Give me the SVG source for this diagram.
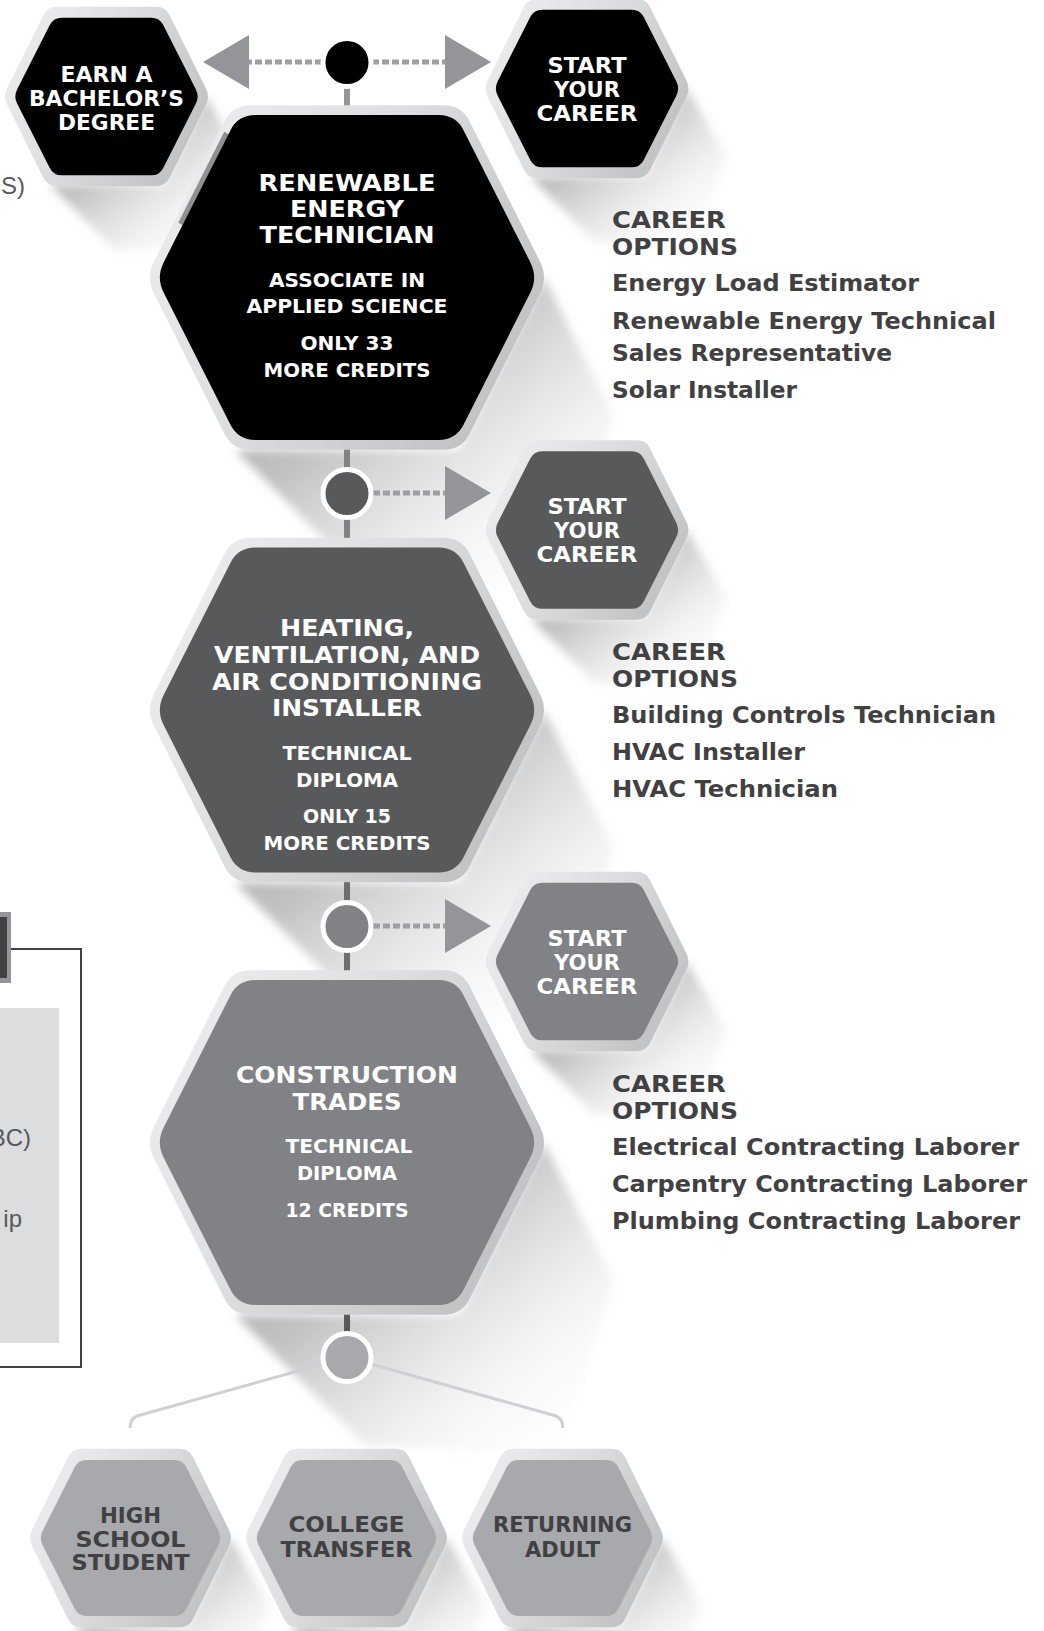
<svg xmlns="http://www.w3.org/2000/svg" width="1044" height="1631" viewBox="0 0 1044 1631">
<defs>
  <path id="hx" d="M96,-8.06 Q100,0 96,8.06 L61,78.54 Q57,86.6 48,86.6 L-48,86.6 Q-57,86.6 -61,78.54 L-96,8.06 Q-100,0 -96,-8.06 L-61,-78.54 Q-57,-86.6 -48,-86.6 L48,-86.6 Q57,-86.6 61,-78.54 Z"/>
  <linearGradient id="ring" x1="0" y1="0" x2="1" y2="0.5">
    <stop offset="0" stop-color="#f0f0f1"/>
    <stop offset="0.5" stop-color="#dedfe0"/>
    <stop offset="1" stop-color="#c3c4c6"/>
  </linearGradient>
  <linearGradient id="shd" x1="0" y1="0" x2="1" y2="1">
    <stop offset="0" stop-color="#6f6f71" stop-opacity="0.7"/>
    <stop offset="0.38" stop-color="#858587" stop-opacity="0.5"/>
    <stop offset="0.72" stop-color="#b4b4b6" stop-opacity="0.14"/>
    <stop offset="1" stop-color="#ffffff" stop-opacity="0"/>
  </linearGradient>
  <filter id="soft" x="-20%" y="-20%" width="140%" height="140%">
    <feGaussianBlur stdDeviation="5"/>
  </filter>
</defs>
<style>
  .ring{fill:url(#ring)}
  .shd{fill:url(#shd)}
  .t{font-family:"DejaVu Sans","Liberation Sans",sans-serif;font-weight:bold;text-anchor:middle}
  .w{fill:#ffffff}
  .dk{fill:#414042}
  .f23{font-size:23px}
  .f21{font-size:21px}
  .f20{font-size:20px}
  .co{font-family:"DejaVu Sans","Liberation Sans",sans-serif;font-weight:bold;font-size:23px;fill:#414042}
  .lt{font-family:"Liberation Sans",Arial,sans-serif;font-size:24px;fill:#58595b;text-anchor:end}
  .vbar{stroke-width:6;fill:none}
  .dots{stroke:#9d9fa2;stroke-width:5;stroke-dasharray:7 3;fill:none}
  .tri{fill:#939598}
  .branch{stroke:#cfd0d2;stroke-width:3;fill:none}
  .jn{stroke:#ffffff;stroke-width:5}
</style>

<!-- shadows -->
<g id="shadows" filter="url(#soft)">
  <polygon class="shd" points="544,277.5 614,417.5 559,590 365,580 235,450 459,450"/>
  <polygon class="shd" points="544,710 614,850 559,1022.5 365,1012.5 235,882.5 459,882.5"/>
  <polygon class="shd" points="544,1142.5 614,1282.5 559,1455 365,1445 235,1315 459,1315"/>
  <polygon class="shd" points="206.5,96.5 246.5,166.5 213.5,249.5 114.5,249.5 49.5,184.5 163.5,184.5"/>
  <polygon class="shd" points="687,88.5 727,158.5 694,241.5 595,241.5 530,176.5 644,176.5"/>
  <polygon class="shd" points="687,530 727,600 694,683 595,683 530,618 644,618"/>
  <polygon class="shd" points="687,961.5 727,1031.5 694,1114.5 595,1114.5 530,1049.5 644,1049.5"/>
  <polygon class="shd" points="230.5,1538 270.5,1608 237.5,1691 138.5,1691 73.5,1626 187.5,1626"/>
  <polygon class="shd" points="446.5,1538 486.5,1608 453.5,1691 354.5,1691 289.5,1626 403.5,1626"/>
  <polygon class="shd" points="662.5,1538 702.5,1608 669.5,1691 570.5,1691 505.5,1626 619.5,1626"/>
</g>

<!-- cropped side panel remnants -->
<g id="side-panel">
  <text class="lt" x="25" y="194">S)</text>
  <rect x="0" y="912" width="11" height="71" fill="#939598"/>
  <rect x="0" y="917" width="7" height="61" fill="#414042"/>
  <path d="M11,949 H81 V1367 H0" fill="none" stroke="#414042" stroke-width="2"/>
  <rect x="0" y="1008" width="59" height="335" fill="#dcddde"/>
  <text class="lt" x="31" y="1146">BC)</text>
  <text class="lt" x="22" y="1227">ip</text>
</g>

<!-- connectors -->
<g id="connectors">
  <line class="vbar" stroke="#939598" x1="347" y1="84" x2="347" y2="108"/>
  <line class="vbar" stroke="#808285" x1="347" y1="448" x2="347" y2="470"/>
  <line class="vbar" stroke="#808285" x1="347" y1="516" x2="347" y2="540"/>
  <line class="vbar" stroke="#6d6e71" x1="347" y1="881" x2="347" y2="903"/>
  <line class="vbar" stroke="#6d6e71" x1="347" y1="949" x2="347" y2="972"/>
  <line class="vbar" stroke="#58595b" x1="347" y1="1313" x2="347" y2="1334"/>
  <line class="dots" x1="322" y1="62" x2="249" y2="62"/>
  <line class="dots" x1="372" y1="62" x2="445" y2="62"/>
  <line class="dots" x1="373" y1="493" x2="445" y2="493"/>
  <line class="dots" x1="373" y1="926" x2="445" y2="926"/>
  <polygon class="tri" points="249,35 249,89 203,62"/>
  <polygon class="tri" points="445,35 445,89 491,62"/>
  <polygon class="tri" points="445,466 445,520 491,493"/>
  <polygon class="tri" points="445,899 445,953 491,926"/>
  <path class="branch" d="M323,1364 L137,1416 Q130,1419 130,1428"/>
  <path class="branch" d="M371,1364 L556,1416 Q563,1419 563,1428"/>
</g>

<!-- top row -->
<g id="node-earn-bachelors">
  <use href="#hx" class="ring" transform="translate(106.5,96.5) scale(1.035,1.035)"/>
  <use href="#hx" fill="#000000" transform="translate(106.5,96.5) scale(0.93,0.91)"/>
  <text class="t w f21" x="106.5" y="82" textLength="92" lengthAdjust="spacingAndGlyphs">EARN A</text>
  <text class="t w f21" x="106.5" y="106" textLength="155" lengthAdjust="spacingAndGlyphs">BACHELOR’S</text>
  <text class="t w f21" x="106.5" y="130" textLength="97" lengthAdjust="spacingAndGlyphs">DEGREE</text>
</g>
<g id="node-start-career-1">
  <use href="#hx" class="ring" transform="translate(587,88.5) scale(1.035,1.035)"/>
  <use href="#hx" fill="#000000" transform="translate(587,88.5) scale(0.93,0.91)"/>
  <text class="t w f21" x="587" y="73" textLength="79" lengthAdjust="spacingAndGlyphs">START</text>
  <text class="t w f21" x="587" y="97" textLength="66" lengthAdjust="spacingAndGlyphs">YOUR</text>
  <text class="t w f21" x="587" y="121" textLength="101" lengthAdjust="spacingAndGlyphs">CAREER</text>
</g>

<!-- main hex 1 -->
<g id="node-renewable-energy-technician">
  <use href="#hx" class="ring" transform="translate(347,277.5) scale(2.01,1.99)"/>
  <line x1="226.5" y1="133" x2="180.5" y2="224" stroke="#8f9093" stroke-width="5"/>
  <use href="#hx" fill="#000000" transform="translate(347,277.5) scale(1.91,1.876)"/>
  <text class="t w f23" x="347" y="191" textLength="177" lengthAdjust="spacingAndGlyphs">RENEWABLE</text>
  <text class="t w f23" x="347" y="217" textLength="114" lengthAdjust="spacingAndGlyphs">ENERGY</text>
  <text class="t w f23" x="347" y="243" textLength="175" lengthAdjust="spacingAndGlyphs">TECHNICIAN</text>
  <text class="t w f20" x="347" y="287" textLength="156" lengthAdjust="spacingAndGlyphs">ASSOCIATE IN</text>
  <text class="t w f20" x="347" y="313" textLength="201" lengthAdjust="spacingAndGlyphs">APPLIED SCIENCE</text>
  <text class="t w f20" x="347" y="350" textLength="93" lengthAdjust="spacingAndGlyphs">ONLY 33</text>
  <text class="t w f20" x="347" y="377" textLength="167" lengthAdjust="spacingAndGlyphs">MORE CREDITS</text>
</g>

<g id="node-start-career-2">
  <use href="#hx" class="ring" transform="translate(587,530) scale(1.035,1.035)"/>
  <use href="#hx" fill="#58595b" transform="translate(587,530) scale(0.93,0.91)"/>
  <text class="t w f21" x="587" y="514" textLength="79" lengthAdjust="spacingAndGlyphs">START</text>
  <text class="t w f21" x="587" y="538" textLength="66" lengthAdjust="spacingAndGlyphs">YOUR</text>
  <text class="t w f21" x="587" y="562" textLength="101" lengthAdjust="spacingAndGlyphs">CAREER</text>
</g>

<g id="node-hvac-installer">
  <use href="#hx" class="ring" transform="translate(347,710) scale(2.01,1.99)"/>
  <use href="#hx" fill="#58595b" transform="translate(347,710) scale(1.91,1.876)"/>
  <text class="t w f23" x="347" y="636" textLength="134" lengthAdjust="spacingAndGlyphs">HEATING,</text>
  <text class="t w f23" x="347" y="663" textLength="266" lengthAdjust="spacingAndGlyphs">VENTILATION, AND</text>
  <text class="t w f23" x="347" y="690" textLength="270" lengthAdjust="spacingAndGlyphs">AIR CONDITIONING</text>
  <text class="t w f23" x="347" y="716" textLength="150" lengthAdjust="spacingAndGlyphs">INSTALLER</text>
  <text class="t w f20" x="347" y="760" textLength="129" lengthAdjust="spacingAndGlyphs">TECHNICAL</text>
  <text class="t w f20" x="347" y="787" textLength="102" lengthAdjust="spacingAndGlyphs">DIPLOMA</text>
  <text class="t w f20" x="347" y="823" textLength="88" lengthAdjust="spacingAndGlyphs">ONLY 15</text>
  <text class="t w f20" x="347" y="850" textLength="167" lengthAdjust="spacingAndGlyphs">MORE CREDITS</text>
</g>

<g id="node-start-career-3">
  <use href="#hx" class="ring" transform="translate(587,961.5) scale(1.035,1.035)"/>
  <use href="#hx" fill="#808285" transform="translate(587,961.5) scale(0.93,0.91)"/>
  <text class="t w f21" x="587" y="946" textLength="79" lengthAdjust="spacingAndGlyphs">START</text>
  <text class="t w f21" x="587" y="970" textLength="66" lengthAdjust="spacingAndGlyphs">YOUR</text>
  <text class="t w f21" x="587" y="994" textLength="101" lengthAdjust="spacingAndGlyphs">CAREER</text>
</g>

<g id="node-construction-trades">
  <use href="#hx" class="ring" transform="translate(347,1142.5) scale(2.01,1.99)"/>
  <use href="#hx" fill="#808285" transform="translate(347,1142.5) scale(1.91,1.876)"/>
  <text class="t w f23" x="347" y="1083" textLength="222" lengthAdjust="spacingAndGlyphs">CONSTRUCTION</text>
  <text class="t w f23" x="347" y="1110" textLength="109" lengthAdjust="spacingAndGlyphs">TRADES</text>
  <text class="t w f20" x="349" y="1153" textLength="127" lengthAdjust="spacingAndGlyphs">TECHNICAL</text>
  <text class="t w f20" x="347" y="1180" textLength="100" lengthAdjust="spacingAndGlyphs">DIPLOMA</text>
  <text class="t w f20" x="347" y="1217" textLength="123" lengthAdjust="spacingAndGlyphs">12 CREDITS</text>
</g>

<!-- entry points -->
<g id="node-high-school-student">
  <use href="#hx" class="ring" transform="translate(130.5,1538) scale(1.025,1.03)"/>
  <use href="#hx" fill="#a7a9ac" transform="translate(130.5,1538) scale(0.915,0.9)"/>
  <text class="t dk f21" x="130.5" y="1523" textLength="61" lengthAdjust="spacingAndGlyphs">HIGH</text>
  <text class="t dk f21" x="130.5" y="1547" textLength="110" lengthAdjust="spacingAndGlyphs">SCHOOL</text>
  <text class="t dk f21" x="130.5" y="1570" textLength="118" lengthAdjust="spacingAndGlyphs">STUDENT</text>
</g>
<g id="node-college-transfer">
  <use href="#hx" class="ring" transform="translate(346.5,1538) scale(1.025,1.03)"/>
  <use href="#hx" fill="#a7a9ac" transform="translate(346.5,1538) scale(0.915,0.9)"/>
  <text class="t dk f21" x="346.5" y="1532" textLength="116" lengthAdjust="spacingAndGlyphs">COLLEGE</text>
  <text class="t dk f21" x="346.5" y="1557" textLength="132" lengthAdjust="spacingAndGlyphs">TRANSFER</text>
</g>
<g id="node-returning-adult">
  <use href="#hx" class="ring" transform="translate(562.5,1538) scale(1.025,1.03)"/>
  <use href="#hx" fill="#a7a9ac" transform="translate(562.5,1538) scale(0.915,0.9)"/>
  <text class="t dk f21" x="562.5" y="1532" textLength="139" lengthAdjust="spacingAndGlyphs">RETURNING</text>
  <text class="t dk f21" x="562.5" y="1557" textLength="75" lengthAdjust="spacingAndGlyphs">ADULT</text>
</g>

<!-- junction circles -->
<g id="junction-1"><circle class="jn" cx="347" cy="62.5" r="24" fill="#000000"/></g>
<g id="junction-2"><circle class="jn" cx="347" cy="493.5" r="24" fill="#58595b"/></g>
<g id="junction-3"><circle class="jn" cx="347" cy="926.5" r="24" fill="#808285"/></g>
<g id="junction-4"><circle class="jn" cx="347" cy="1357.5" r="24" fill="#a7a9ac"/></g>

<!-- career options -->
<g id="career-options-1">
  <text class="co" x="612" y="228" textLength="114" lengthAdjust="spacingAndGlyphs">CAREER</text>
  <text class="co" x="612" y="255" textLength="126" lengthAdjust="spacingAndGlyphs">OPTIONS</text>
  <text class="co" x="612" y="291" textLength="307" lengthAdjust="spacingAndGlyphs">Energy Load Estimator</text>
  <text class="co" x="612" y="329" textLength="384" lengthAdjust="spacingAndGlyphs">Renewable Energy Technical</text>
  <text class="co" x="612" y="361" textLength="280" lengthAdjust="spacingAndGlyphs">Sales Representative</text>
  <text class="co" x="612" y="398" textLength="185" lengthAdjust="spacingAndGlyphs">Solar Installer</text>
</g>
<g id="career-options-2">
  <text class="co" x="612" y="660" textLength="114" lengthAdjust="spacingAndGlyphs">CAREER</text>
  <text class="co" x="612" y="687" textLength="126" lengthAdjust="spacingAndGlyphs">OPTIONS</text>
  <text class="co" x="612" y="723" textLength="384" lengthAdjust="spacingAndGlyphs">Building Controls Technician</text>
  <text class="co" x="612" y="760" textLength="193" lengthAdjust="spacingAndGlyphs">HVAC Installer</text>
  <text class="co" x="612" y="797" textLength="226" lengthAdjust="spacingAndGlyphs">HVAC Technician</text>
</g>
<g id="career-options-3">
  <text class="co" x="612" y="1092" textLength="114" lengthAdjust="spacingAndGlyphs">CAREER</text>
  <text class="co" x="612" y="1119" textLength="126" lengthAdjust="spacingAndGlyphs">OPTIONS</text>
  <text class="co" x="612" y="1155" textLength="407" lengthAdjust="spacingAndGlyphs">Electrical Contracting Laborer</text>
  <text class="co" x="612" y="1192" textLength="415" lengthAdjust="spacingAndGlyphs">Carpentry Contracting Laborer</text>
  <text class="co" x="612" y="1229" textLength="408" lengthAdjust="spacingAndGlyphs">Plumbing Contracting Laborer</text>
</g>
</svg>
